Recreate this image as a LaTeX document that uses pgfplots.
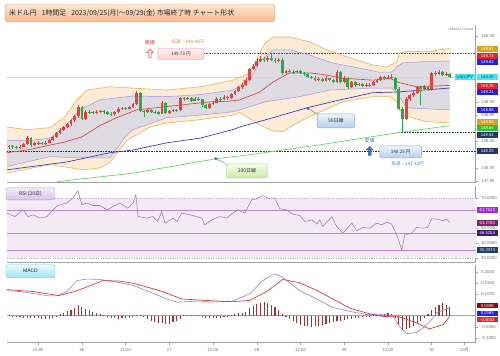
\documentclass[border=0pt]{standalone}
\usepackage{pgfplots}
\pgfplotsset{compat=1.18}
\usepackage{pgfplotstable}
\usepgfplotslibrary{fillbetween}
\usetikzlibrary{shapes.arrows}
\usepackage{fontspec}
\setmainfont{Liberation Sans}
\newfontfamily\jp{Noto Sans CJK JP}

\definecolor{bandO}{HTML}{F0B458}
\definecolor{bandOfill}{HTML}{FCEBD6}
\definecolor{bandI}{HTML}{A898D8}
\definecolor{bandIfill}{HTML}{DEDCE2}
\definecolor{midred}{HTML}{E04848}
\definecolor{maA}{HTML}{3C3CCC}
\definecolor{maB}{HTML}{66D966}
\definecolor{candleup}{HTML}{E8403A}
\definecolor{candledn}{HTML}{2EA84A}
\definecolor{axgray}{HTML}{A0A0A0}
\definecolor{labgray}{HTML}{707070}
\definecolor{navyl}{HTML}{1F3864}
\definecolor{goldl}{HTML}{D9A11C}
\definecolor{redl}{HTML}{EE2024}
\definecolor{bluel}{HTML}{1E1EF0}
\definecolor{cyanl}{HTML}{44E6F6}
\definecolor{greenl}{HTML}{22C822}
\definecolor{rsibg}{HTML}{F4EAF6}
\definecolor{rsiline}{HTML}{9E7AB4}
\definecolor{rsilev}{HTML}{B98AD2}
\definecolor{macdblue}{HTML}{7C7CF4}
\definecolor{macdred}{HTML}{E83030}
\definecolor{histc}{HTML}{A23232}
\definecolor{titletop}{HTML}{FDE8D4}
\definecolor{titlebot}{HTML}{F8B88A}
\definecolor{titlebd}{HTML}{E8A678}
\definecolor{pointer}{HTML}{5A6E96}
\definecolor{dotA}{HTML}{46649A}
\definecolor{dotB}{HTML}{466E82}
\definecolor{bboxtop}{HTML}{ECF3FC}
\definecolor{bboxbot}{HTML}{B6D0F0}
\definecolor{bboxbd}{HTML}{8CAAD7}
\definecolor{gboxtop}{HTML}{F4FCE6}
\definecolor{gboxbot}{HTML}{CCECA8}
\definecolor{gboxbd}{HTML}{A8D080}
\definecolor{orangetxt}{HTML}{F08228}
\definecolor{lowtxt}{HTML}{4070BE}
\definecolor{lowarrbd}{HTML}{325FA0}
\definecolor{lowarr}{HTML}{4678B9}
\definecolor{lastlow}{HTML}{328CBE}
\definecolor{rsiA}{HTML}{A028E6}
\definecolor{rsiB}{HTML}{8C1E6E}
\definecolor{rsiC}{HTML}{3C1E6E}
\definecolor{rsiD}{HTML}{1E3C6E}
\definecolor{rsitop}{HTML}{F4ECFA}
\definecolor{rsibot}{HTML}{D6C4EC}
\definecolor{rsibd}{HTML}{B8A0D2}
\definecolor{mtop}{HTML}{E8FAFE}
\definecolor{mbot}{HTML}{A0E4F4}
\definecolor{mbd}{HTML}{82C8E0}
\definecolor{histlab}{HTML}{8C0A0A}

\pgfplotstableread{
t o h l c d
-20 148.31 148.35 148.29 148.33 1
-19 148.33 148.34 148.29 148.31 0
-18 148.31 148.33 148.28 148.30 0
-17 148.30 148.34 148.29 148.32 1
-16 148.32 148.38 148.31 148.36 1
-15 148.36 148.48 148.35 148.45 1
-14 148.45 148.47 148.32 148.34 0
-13 148.34 148.39 148.33 148.37 1
-12 148.37 148.40 148.35 148.38 1
-11 148.38 148.39 148.34 148.36 0
-10 148.36 148.40 148.35 148.38 1
-9 148.38 148.44 148.37 148.42 1
-8 148.42 148.49 148.41 148.47 1
-7 148.47 148.55 148.46 148.53 1
-6 148.53 148.60 148.51 148.58 1
-5 148.58 148.64 148.56 148.62 1
-4 148.62 148.68 148.60 148.66 1
-3 148.66 148.74 148.64 148.72 1
-2 148.72 148.80 148.70 148.78 1
-1 148.78 148.95 148.76 148.92 1
0 148.92 148.94 148.72 148.74 0
1 148.74 148.88 148.72 148.85 1
2 148.85 148.87 148.82 148.84 0
3 148.84 148.86 148.81 148.83 0
4 148.83 148.87 148.82 148.85 1
5 148.85 148.88 148.83 148.86 1
6 148.86 148.87 148.82 148.84 0
7 148.84 148.86 148.80 148.82 0
8 148.82 148.84 148.79 148.81 0
9 148.81 148.86 148.78 148.84 1
10 148.84 148.92 148.83 148.90 1
11 148.90 148.93 148.88 148.91 1
12 148.91 148.93 148.88 148.90 0
13 148.90 148.94 148.89 148.92 1
14 148.92 148.99 148.91 148.97 1
15 148.97 149.16 148.96 149.14 1
16 149.14 149.15 148.84 148.86 0
17 148.86 148.88 148.77 148.84 0
18 148.84 148.89 148.83 148.87 1
19 148.87 148.89 148.83 148.85 0
20 148.85 148.87 148.82 148.84 0
21 148.84 148.86 148.80 148.82 0
22 148.82 149.01 148.81 148.99 1
23 148.99 149.00 148.81 148.83 0
24 148.83 148.88 148.82 148.86 1
25 148.86 148.90 148.85 148.88 1
26 148.88 148.90 148.85 148.87 0
27 148.87 149.08 148.86 149.06 1
28 149.06 149.08 149.02 149.04 0
29 149.04 149.08 149.03 149.06 1
30 149.06 149.07 149.00 149.02 0
31 149.02 149.07 149.01 149.05 1
32 149.05 149.07 149.02 149.04 0
33 149.04 149.05 148.93 148.95 0
34 148.95 148.97 148.89 148.91 0
35 148.91 148.99 148.90 148.97 1
36 148.97 149.01 148.95 148.99 1
37 148.99 149.07 148.98 149.05 1
38 149.05 149.08 149.02 149.04 0
39 149.04 149.10 149.03 149.07 1
40 149.07 149.09 149.03 149.06 0
41 149.06 149.14 149.05 149.12 1
42 149.12 149.18 149.10 149.16 1
43 149.16 149.24 149.15 149.22 1
44 149.22 149.28 149.20 149.26 1
45 149.26 149.36 149.24 149.33 1
46 149.33 149.52 149.32 149.50 1
47 149.50 149.58 149.48 149.55 1
48 149.55 149.66 149.53 149.62 1
49 149.62 149.70 149.60 149.65 1
50 149.65 149.68 149.60 149.63 0
51 149.63 149.69 149.61 149.66 1
52 149.66 149.73 149.62 149.64 0
53 149.64 149.67 149.59 149.62 0
54 149.62 149.67 149.60 149.64 1
55 149.64 149.66 149.41 149.44 0
56 149.44 149.49 149.42 149.47 1
57 149.47 149.50 149.44 149.46 0
58 149.46 149.48 149.43 149.45 0
59 149.45 149.49 149.44 149.47 1
60 149.47 149.48 149.42 149.44 0
61 149.44 149.46 149.40 149.42 0
62 149.42 149.44 149.36 149.38 0
63 149.38 149.40 149.34 149.37 0
64 149.37 149.39 149.31 149.33 0
65 149.33 149.38 149.32 149.35 1
66 149.35 149.37 149.30 149.32 0
67 149.32 149.39 149.31 149.36 1
68 149.36 149.37 149.31 149.33 0
69 149.33 149.35 149.28 149.30 0
70 149.30 149.48 149.29 149.45 1
71 149.45 149.47 149.28 149.30 0
72 149.30 149.39 149.29 149.36 1
73 149.36 149.38 149.19 149.22 0
74 149.22 149.32 149.21 149.30 1
75 149.30 149.32 149.23 149.25 0
76 149.25 149.29 149.24 149.27 1
77 149.27 149.29 149.22 149.24 0
78 149.24 149.28 149.23 149.26 1
79 149.26 149.28 149.23 149.25 0
80 149.25 149.32 149.24 149.30 1
81 149.30 149.35 149.29 149.33 1
82 149.33 149.40 149.32 149.38 1
83 149.38 149.40 149.33 149.35 0
84 149.35 149.41 149.34 149.38 1
85 149.38 149.43 149.34 149.36 0
86 149.36 149.38 149.18 149.20 0
87 149.20 149.22 148.88 148.90 0
88 148.90 148.92 148.54 148.74 0
89 148.74 149.07 148.72 149.05 1
90 149.05 149.12 149.02 149.10 1
91 149.10 149.16 149.08 149.14 1
92 149.14 149.24 149.12 149.22 1
93 149.22 149.24 148.95 149.20 0
94 149.20 149.25 149.18 149.22 1
95 149.22 149.24 149.16 149.18 0
96 149.18 149.46 149.17 149.44 1
97 149.44 149.47 149.40 149.42 0
98 149.42 149.48 149.41 149.45 1
99 149.45 149.47 149.39 149.41 0
100 149.41 149.45 149.40 149.43 1
101 149.43 149.44 149.36 149.38 0
}\candles

\pgfplotstableread{
t p
-20.6 148.62
-15.1 148.58
-8.8 148.61
-4.9 148.76
-1.4 149.03
1.4 149.18
7.7 149.23
14.0 149.21
23.3 149.18
32.4 149.23
41.4 149.33
46.1 149.44
48.8 149.74
50.2 149.89
52.4 149.985
57.0 149.985
62.5 149.91
67.2 149.79
73.5 149.67
79.8 149.56
83.7 149.53
86.4 149.61
87.2 149.74
89.1 149.77
94.6 149.76
98.2 149.79
100.9 149.81
}\uo
\pgfplotstableread{
t p
-20.6 148.42
-15.1 148.41
-8.8 148.45
-4.9 148.61
-0.5 148.88
4.9 149.03
14.0 149.09
23.3 149.08
32.4 149.11
41.4 149.18
46.1 149.33
48.8 149.61
52.4 149.79
57.0 149.79
62.5 149.71
68.8 149.59
75.4 149.52
81.7 149.45
85.0 149.45
86.4 149.53
88.0 149.59
93.5 149.61
100.9 149.62
}\ui
\pgfplotstableread{
t p
-20.6 148.23
-15.1 148.27
-10.1 148.33
-4.9 148.39
0 148.47
4.9 148.64
9.9 148.77
15.1 148.88
20.0 148.91
25.0 148.94
29.9 148.97
35.1 149.00
40.0 149.01
43.3 149.03
48.8 149.15
52.4 149.30
57.0 149.44
62.5 149.44
66.9 149.41
71.5 149.36
79.8 149.33
84.5 149.36
87.2 149.29
91.9 149.23
100.9 149.25
}\mid
\pgfplotstableread{
t p
-20.6 148.02
-8.8 148.17
0.3 148.15
7.7 148.15
12.3 148.50
14.0 148.58
23.3 148.76
32.4 148.80
41.4 148.85
43.3 148.88
50.2 149.00
59.8 149.08
68.0 149.18
79.8 149.21
85.0 149.21
86.4 149.15
89.1 148.91
100.9 148.88
}\li
\pgfplotstableread{
t p
-20.6 147.92
-13.4 148.00
-8.8 148.05
0.3 147.97
4.9 148.00
7.7 148.08
12.3 148.42
18.7 148.62
23.3 148.68
32.4 148.73
41.4 148.80
43.3 148.84
48.8 148.65
52.4 148.56
55.1 148.55
59.0 148.68
63.4 148.80
71.5 149.00
79.8 149.08
84.5 149.08
86.4 149.00
88.0 148.80
94.6 148.70
100.9 148.68
}\lo
\pgfplotstableread{
t p
-20.6 147.97
-4.1 148.09
7.7 148.23
14.0 148.27
23.3 148.38
32.4 148.45
41.4 148.58
43.3 148.62
52.4 148.76
61.7 148.91
70.8 149.03
79.8 149.14
86.4 149.15
100.9 149.21
}\maA
\pgfplotstableread{
t p
-6.9 147.79
14.0 147.92
37.0 148.14
46.1 148.20
65.3 148.35
86.4 148.53
100.9 148.64
}\maB

\pgfplotstableread{
t v
-20.6 59.8
-18.4 57.5
-16.2 62
-14.8 57.5
-13.4 58.7
-11.5 56.5
-9.6 57.5
-8.0 62
-6.6 64.9
-4.1 66.5
-2.5 69.8
-1.1 74.7
0 65.3
1.4 66.5
3.0 64.9
4.9 64.9
6.9 62
8.5 64.2
10.4 66.5
12.6 63.1
14.0 66.5
14.8 72
15.4 57.5
17.8 56.5
19.5 57.5
20.8 54.2
21.9 60.9
22.8 53.1
25.0 56.5
26.1 54.2
27.4 59.8
29.6 58.7
31.5 57.5
32.9 56.5
33.7 52
35.7 55.3
37.8 57.5
39.8 56.5
41.4 59.8
42.8 62
44.7 59.8
46.6 68.7
48.0 69.3
49.6 71.5
51.0 69.8
52.9 69.8
54.3 62.7
56.2 62
57.9 59.1
59.8 58.2
61.2 54.2
63.1 55.3
64.5 52.5
65.3 55.3
66.1 50.9
68.6 57.5
69.9 50.9
71.6 46.5
74.1 53.1
75.4 48
77.1 50.2
79.0 49.8
80.9 53.1
82.3 52
83.7 53.8
85.0 52.5
86.4 45.3
87.8 35.3
88.6 45.3
90.5 46.5
91.9 50.2
93.5 49.8
94.9 50.2
96.0 56
97.6 55.8
99.0 54.7
100.1 55.8
100.9 53.8
}\rsi

\pgfplotstableread{
t v
-20.6 0.114
-17.0 0.110
-8.8 0.090
-6.9 0.090
-4.1 0.110
-1.4 0.160
1.4 0.167
4.9 0.165
9.0 0.155
14.0 0.138
17.8 0.114
23.3 0.076
26.1 0.062
32.4 0.067
35.1 0.062
41.4 0.067
46.1 0.100
49.6 0.160
52.9 0.190
55.1 0.176
59.8 0.114
64.5 0.076
68.8 0.038
73.5 0.020
78.2 0.005
82.6 0.008
85.3 0.000
87.2 -0.050
89.1 -0.081
91.9 -0.076
93.5 -0.057
95.4 -0.029
97.4 0.014
100.9 0.0365
}\macd
\pgfplotstableread{
t v
-20.6 0.119
-13.4 0.110
-6.4 0.092
-2.5 0.108
0.3 0.124
5.7 0.160
10.0 0.158
14.0 0.148
21.4 0.114
27.5 0.076
37.0 0.067
41.4 0.064
46.1 0.070
50.7 0.110
55.1 0.165
59.8 0.150
64.5 0.115
73.5 0.035
78.2 0.012
82.6 -0.003
87.2 -0.005
91.9 -0.033
95.4 -0.060
99.2 -0.040
100.9 -0.0033
}\signal
\pgfplotstableread{
t v
-20 0.005
-19 -0.003
-18 -0.005
-17 -0.006
-16 -0.008
-15 -0.009
-14 -0.010
-13 -0.011
-12 -0.012
-11 -0.013
-10 -0.014
-9 -0.013
-8 -0.010
-7 -0.005
-6 0.008
-5 0.014
-4 0.022
-3 0.028
-2 0.036
-1 0.048
0 0.040
1 0.032
2 0.026
3 0.019
4 0.013
5 0.008
6 0.003
7 -0.004
8 -0.008
9 -0.012
10 -0.013
11 -0.012
12 -0.011
13 -0.009
14 -0.005
15 0.004
16 0.002
17 -0.006
18 -0.015
19 -0.024
20 -0.030
21 -0.035
22 -0.031
23 -0.039
24 -0.036
25 -0.030
26 -0.025
27 -0.015
28 0.003
29 0.004
30 0.005
31 0.004
32 0.003
33 -0.003
34 -0.008
35 -0.010
36 -0.010
37 -0.009
38 -0.008
39 -0.005
40 -0.003
41 0.002
42 0.008
43 0.012
44 0.014
45 0.016
46 0.035
47 0.045
48 0.052
49 0.058
50 0.062
51 0.058
52 0.050
53 0.038
54 0.025
55 0.010
56 -0.004
57 -0.015
58 -0.024
59 -0.032
60 -0.040
61 -0.045
62 -0.048
63 -0.050
64 -0.048
65 -0.045
66 -0.040
67 -0.036
68 -0.032
69 -0.028
70 -0.024
71 -0.022
72 -0.018
73 -0.016
74 -0.013
75 -0.011
76 -0.009
77 -0.007
78 -0.005
79 -0.003
80 0.002
81 0.004
82 0.008
83 0.010
84 0.012
85 0.010
86 -0.010
87 -0.040
88 -0.067
89 -0.062
90 -0.055
91 -0.045
92 -0.035
93 -0.022
94 -0.008
95 0.010
96 0.025
97 0.040
98 0.050
99 0.057
100 0.050
101 0.040
}\hist

\pgfplotsset{
  panel/.style={scale only axis, width=469pt, xmin=-20.57, xmax=108.06,
    anchor=south west, axis x line*=bottom, axis y line*=right,
    axis line style={draw=axgray, line width=0.5pt},
    every tick/.style={axgray, line width=0.4pt}, major tick length=2pt,
    tick align=outside,
    ticklabel style={font=\fontsize{4.3}{4.3}\selectfont, text=labgray},
    clip mode=individual},
}
\tikzset{
  rlab/.style={anchor=west, font=\fontsize{4.2}{4.2}\selectfont, text=white,
    inner sep=0pt, minimum width=21pt, minimum height=5.6pt, xshift=1pt},
}

\begin{document}
\begin{tikzpicture}
\path (0,0) rectangle (500pt,355pt);
\shade[top color=titletop, bottom color=titlebot, draw=titlebd, rounded corners=3pt] (5pt,333pt) rectangle (275pt,351pt);
\node[anchor=west, font=\jp\fontsize{6.9}{6.9}\selectfont, text=black!85, inner sep=0pt] at (9pt,342pt)
  {米ドル円\hspace{5pt}1時間足\hspace{5pt}2023/09/25(月)～09/29(金) 市場終了時 チャート形状};
\node[anchor=east, font=\fontsize{3.6}{3.6}\selectfont, text=gray, inner sep=0pt] at (474pt,326pt) {\textbullet\ Market Closed};

% ---------------- price panel
\begin{axis}[panel, at={(7pt,173pt)}, height=157pt, ymin=147.788, ymax=150.1667,
  xtick=\empty, ytick={150,149,148.8,148.4,148,147.8},
  yticklabels={150.00,149.00,148.80,148.40,148.00,147.80},
  point meta min=0, point meta max=1,
  colormap={candle}{color=(candledn) color=(candleup)}]
\addplot[draw=none, name path=uo] table[x=t,y=p]{\uo};
\addplot[draw=none, name path=lo] table[x=t,y=p]{\lo};
\addplot[draw=none, name path=ui] table[x=t,y=p]{\ui};
\addplot[draw=none, name path=li] table[x=t,y=p]{\li};
\addplot[fill=bandOfill] fill between[of=uo and lo];
\addplot[fill=bandIfill] fill between[of=ui and li];
\draw[cyanl!60, line width=0.5pt] (axis cs:-20.57,149.38) -- (axis cs:108.06,149.38);
\draw[navyl, line width=0.6pt, dash pattern=on 0.8pt off 0.8pt] (axis cs:-20.57,148.25) -- (axis cs:108.06,148.25);
\draw[navyl, line width=0.6pt, dash pattern=on 0.8pt off 0.8pt] (axis cs:86.6,148.54) -- (axis cs:108.06,148.54);
\draw[redl, line width=0.6pt, dash pattern=on 0.8pt off 0.8pt] (axis cs:33.5,149.73) -- (axis cs:108.06,149.73);
\addplot[bandO, line width=0.6pt] table[x=t,y=p]{\uo};
\addplot[bandO, line width=0.6pt] table[x=t,y=p]{\lo};
\addplot[bandI, line width=0.5pt] table[x=t,y=p]{\ui};
\addplot[bandI, line width=0.5pt] table[x=t,y=p]{\li};
\addplot[maB, line width=0.7pt] table[x=t,y=p]{\maB};
\addplot[maA, line width=0.7pt] table[x=t,y=p]{\maA};
\addplot[midred, line width=0.7pt] table[x=t,y=p]{\mid};
% candles
\addplot[quiver={u=0, v=\thisrow{h}-\thisrow{l}, colored=mapped color}, line width=0.5pt,
  point meta=\thisrow{d}] table[x=t,y=l]{\candles};
\addplot[quiver={u=0, v=\thisrow{c}-\thisrow{o}, colored=mapped color}, line width=2.8pt,
  point meta=\thisrow{d}] table[x=t,y=o]{\candles};
% markers on MAs
\draw[pointer, line width=0.4pt] (axis cs:62.0,148.90) -- (axis cs:65.2,148.80);
\draw[pointer, line width=0.4pt] (axis cs:36.75,148.14) -- (axis cs:40.6,148.03);
\addplot[only marks, mark=*, mark size=1.2pt, color=dotA] coordinates {(62.0,148.90)};
\addplot[only marks, mark=*, mark size=1.2pt, color=dotB] coordinates {(36.75,148.14)};
\node[shade, top color=bboxtop, bottom color=bboxbot, draw=bboxbd, rounded corners=1.5pt,
  minimum width=37pt, minimum height=14pt,
  font=\jp\fontsize{5}{5}\selectfont, text=black!80] at (axis cs:69.7,148.712) {90日線};
\node[shade, top color=gboxtop, bottom color=gboxbot, draw=gboxbd, rounded corners=1.5pt,
  minimum width=41pt, minimum height=14pt,
  font=\jp\fontsize{5}{5}\selectfont, text=black!80] at (axis cs:45.3,147.955) {200日線};
% high annotation
\node[font=\jp\fontsize{5}{5}\selectfont, text=redl] at (axis cs:18.65,149.894) {高値};
\node[single arrow, shape border rotate=90, draw=redl!80, fill=pink!60, minimum height=9pt, minimum width=7pt,
  inner sep=0.6pt, single arrow head extend=1.2pt] at (axis cs:18.65,149.725) {};
\node[shade, top color=pink!20, bottom color=pink!75, draw=redl!45, rounded corners=1.5pt,
  minimum width=46pt, minimum height=11.5pt, font=\jp\fontsize{4.6}{4.6}\selectfont, text=black!80]
  at (axis cs:27.15,149.727) {149.73 円};
\node[font=\jp\fontsize{4.6}{4.6}\selectfont, text=orangetxt] at (axis cs:29.07,149.909) {先週：148.46円};
% low annotation
\node[font=\jp\fontsize{5}{5}\selectfont, text=lowtxt] at (axis cs:79.0,148.409) {安値};
\node[single arrow, shape border rotate=90, draw=lowarrbd, fill=lowarr,
  minimum height=9pt, minimum width=7pt, inner sep=0.6pt, single arrow head extend=1.2pt] at (axis cs:79.0,148.245) {};
\node[shade, top color=bboxtop, bottom color=bboxbot, draw=bboxbd, rounded corners=1.5pt,
  minimum width=42pt, minimum height=12pt,
  font=\jp\fontsize{4.6}{4.6}\selectfont, text=black!80] at (axis cs:87.5,148.242) {148.25 円};
\node[font=\jp\fontsize{4.6}{4.6}\selectfont, text=lastlow] at (axis cs:89.4,148.06) {先週：147.33円};
% right labels
\node[rlab, fill=goldl] at (axis cs:108.06,149.803) {149.81};
\node[rlab, fill=redl] at (axis cs:108.06,149.697) {149.73};
\node[rlab, fill=bluel] at (axis cs:108.06,149.606) {149.62};
\node[rlab, fill=cyanl, text=black!75] at (axis cs:108.06,149.379) {149.38};
\node[rlab, fill=cyanl, text=black!75, anchor=east, xshift=-1.5pt, minimum width=20pt] at (axis cs:108.06,149.379) {USDJPY};
\node[rlab, fill=redl] at (axis cs:108.06,149.242) {149.25};
\node[rlab, fill=bluel] at (axis cs:108.06,149.152) {149.21};
\node[rlab, fill=bluel] at (axis cs:108.06,148.879) {148.88};
\node[rlab, fill=goldl] at (axis cs:108.06,148.697) {148.68};
\node[rlab, fill=greenl] at (axis cs:108.06,148.606) {148.64};
\node[rlab, fill=navyl] at (axis cs:108.06,148.50) {148.54};
\node[rlab, fill=navyl] at (axis cs:108.06,148.258) {148.25};
\end{axis}

% ---------------- RSI panel
\begin{axis}[panel, at={(7pt,93pt)}, height=76pt, ymin=27.33, ymax=78,
  xtick=\empty, ytick={70,50,40,30},
  yticklabels={70.0000,50.0000,40.0000,30.0000}]
\fill[rsibg] (axis cs:-20.57,30) rectangle (axis cs:108.06,70);
\draw[rsilev!70, dash pattern=on 1.2pt off 1.2pt, line width=0.5pt] (axis cs:-20.57,70) -- (axis cs:108.06,70);
\draw[axgray!80, dash pattern=on 1.2pt off 1.2pt, line width=0.5pt] (axis cs:-20.57,30) -- (axis cs:108.06,30);
\draw[rsilev, line width=0.6pt] (axis cs:-20.57,61.7513) -- (axis cs:108.06,61.7513);
\draw[rsilev, line width=0.6pt] (axis cs:-20.57,46.5254) -- (axis cs:108.06,46.5254);
\draw[rsilev, line width=0.6pt] (axis cs:-20.57,35.2373) -- (axis cs:108.06,35.2373);
\addplot[rsiline, line width=0.55pt] table[x=t,y=v]{\rsi};
\node[rlab, fill=rsiA] at (axis cs:108.06,61.7513) {61.7513};
\node[rlab, fill=rsiB] at (axis cs:108.06,53.28) {53.2765};
\node[rlab, fill=rsiC] at (axis cs:108.06,46.5254) {46.5254};
\node[rlab, fill=rsiD] at (axis cs:108.06,35.2373) {35.2373};
\end{axis}
\shade[top color=rsitop, bottom color=rsibot, draw=rsibd, rounded corners=2pt] (6pt,155pt) rectangle (55pt,167pt);
\node[font=\jp\fontsize{5}{5}\selectfont, text=black!85] at (30.5pt,161pt) {RSI (20日)};

% ---------------- MACD panel
\begin{axis}[panel, at={(7pt,12pt)}, height=78pt, ymin=-0.1227, ymax=0.2318,
  xtick={-12,0,12,24,36,48,60,72,84,96,105},
  xticklabels={12:00,26,12:00,27,12:00,28,12:00,29,12:00,30,{\jp 10月}},
  ytick={0.2,0.15,0.1,-0.05,-0.1},
  yticklabels={0.2000,0.1500,0.1000,-0.0500,-0.1000}]
\draw[axgray, line width=0.5pt] (axis cs:-20.57,0) -- (axis cs:108.06,0);
\addplot[ycomb, histc, line width=1.1pt] table[x=t,y=v]{\hist};
\addplot[macdblue, line width=0.55pt] table[x=t,y=v]{\macd};
\addplot[macdred, line width=0.65pt] table[x=t,y=v]{\signal};
\node[rlab, fill=histlab] at (axis cs:108.06,0.046) {0.0398};
\node[rlab, fill=bluel] at (axis cs:108.06,0.010) {0.0365};
\node[rlab, fill=redl] at (axis cs:108.06,-0.018) {-0.0033};
\end{axis}
\shade[top color=mtop, bottom color=mbot, draw=mbd, rounded corners=2pt] (6pt,77pt) rectangle (55pt,90pt);
\node[font=\fontsize{5}{5}\selectfont, text=black!85] at (30.5pt,83.5pt) {MACD};
\end{tikzpicture}
\end{document}
